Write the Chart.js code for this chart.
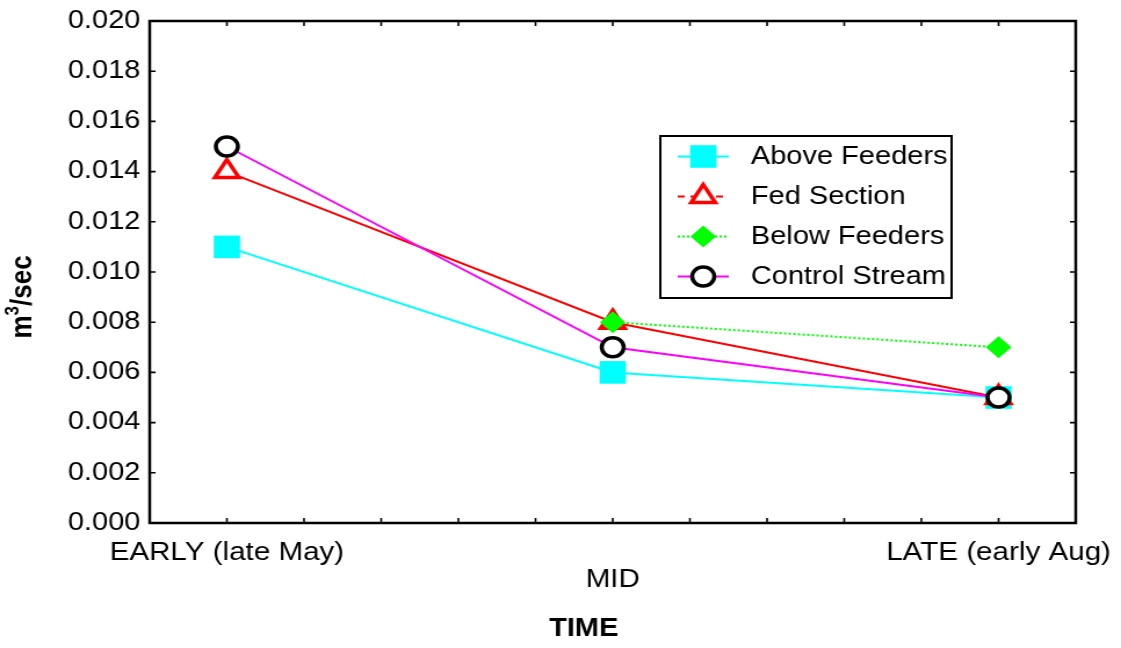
<!DOCTYPE html>
<html>
<head>
<meta charset="utf-8">
<script src="https://cdn.jsdelivr.net/npm/chart.js@4/dist/chart.umd.min.js"></script>
<style>
  html, body { margin: 0; padding: 0; background: #fff; overflow: hidden; }
</style>
</head>
<body>
<!-- Drawn 966 px wide and shown 1121 px wide: the plot and its lettering come out horizontally widened. -->
<canvas id="c" width="966" height="648" style="display:block;width:1121px;height:648px"></canvas>
<script>
// Sampling times, placed along a 0–12 axis
const timeLabels = ['EARLY (late May)', 'MID', 'LATE (early Aug)'];
const timePositions = [1, 6, 11];
const minorTickPositions = [1, 2, 3, 4, 5, 6, 7, 8, 9, 10, 11];

// Discharge, m³/sec
const aboveFeeders  = [0.011, 0.006, 0.005];
const fedSection    = [0.014, 0.008, 0.005];
const belowFeeders  = [null, 0.008, 0.007];
const controlStream = [0.015, 0.007, 0.005];

// Y axis
const yMin = 0, yMax = 0.020, yStep = 0.002;

const toPoints = vals => vals.map((v, i) => ({ x: timePositions[i], y: v }));

const FONT = "'Liberation Sans', Arial, Helvetica, sans-serif";
Chart.defaults.font.family = FONT;
Chart.defaults.color = '#000';

// Box round the plot area with short inward tick marks on all four sides
const framePlugin = {
  id: 'frame',
  beforeDatasetsDraw(chart) {
    const { ctx, chartArea: a, scales } = chart;
    const tl = 5;
    ctx.save();
    ctx.strokeStyle = '#000';
    ctx.lineWidth = 2.5;
    ctx.strokeRect(a.left, a.top, a.right - a.left, a.bottom - a.top);
    ctx.lineWidth = 1.6;
    ctx.beginPath();
    minorTickPositions.forEach(v => {
      const x = scales.x.getPixelForValue(v);
      ctx.moveTo(x, a.top); ctx.lineTo(x, a.top + tl);
      ctx.moveTo(x, a.bottom); ctx.lineTo(x, a.bottom - tl);
    });
    for (let v = yMin + yStep; v < yMax - yStep / 2; v += yStep) {
      const y = scales.y.getPixelForValue(v);
      ctx.moveTo(a.left, y); ctx.lineTo(a.left + tl, y);
      ctx.moveTo(a.right, y); ctx.lineTo(a.right - tl, y);
    }
    ctx.stroke();
    ctx.restore();
  }
};

// Axis titles: rotated "m³/sec" with a raised 3, and "TIME" below the axis
const axisTitlePlugin = {
  id: 'axisTitles',
  afterDraw(chart) {
    const { ctx, chartArea: a } = chart;
    ctx.save();
    ctx.fillStyle = '#000';
    ctx.textBaseline = 'middle';

    ctx.font = 'bold 25px ' + FONT;
    ctx.textAlign = 'center';
    ctx.fillText('TIME', a.left + 374, 629);

    ctx.translate(20, (a.top + a.bottom) / 2 + 25);
    ctx.rotate(-Math.PI / 2);
    ctx.textAlign = 'left';
    const big = 'bold 26px ' + FONT, small = 'bold 17px ' + FONT;
    ctx.font = big;
    const wm = ctx.measureText('m').width;
    const ws = ctx.measureText('/sec').width;
    ctx.font = small;
    const w3 = ctx.measureText('3').width;
    let x = -(wm + w3 + ws) / 2;
    ctx.font = big;
    ctx.fillText('m', x, 0);
    x += wm;
    ctx.font = small;
    ctx.fillText('3', x, -9);
    x += w3;
    ctx.font = big;
    ctx.fillText('/sec', x, 0);
    ctx.restore();
  }
};

// Boxed legend inside the plot, built from each dataset's own styling
const boxLegendPlugin = {
  id: 'boxLegend',
  afterDraw(chart) {
    const { ctx, chartArea: a } = chart;
    const left = a.left + 440, top = a.top + 115, w = 251, h = 162;
    const rowGap = 40, firstRow = 20.5;
    ctx.save();
    ctx.fillStyle = '#fff';
    ctx.fillRect(left, top, w, h);
    ctx.strokeStyle = '#000';
    ctx.lineWidth = 2;
    ctx.strokeRect(left, top, w, h);
    chart.data.datasets.forEach((ds, i) => {
      const y = top + firstRow + i * rowGap;
      const cx = left + 37;
      ctx.save();
      ctx.strokeStyle = ds.borderColor;
      ctx.lineWidth = ds.borderWidth;
      ctx.setLineDash(ds.legendDash || ds.borderDash || []);
      ctx.beginPath();
      ctx.moveTo(left + 15, y);
      ctx.lineTo(left + 59, y);
      ctx.stroke();
      ctx.restore();
      ctx.save();
      ctx.fillStyle = ds.pointBackgroundColor;
      ctx.strokeStyle = ds.pointBorderColor;
      ctx.lineWidth = ds.pointBorderWidth;
      Chart.helpers.drawPoint(ctx, {
        pointStyle: ds.pointStyle,
        rotation: 0,
        radius: ds.pointRadius,
        borderWidth: ds.pointBorderWidth
      }, cx, y);
      ctx.restore();
      ctx.fillStyle = '#000';
      ctx.font = '25px ' + FONT;
      ctx.textAlign = 'left';
      ctx.textBaseline = 'middle';
      ctx.fillText(ds.label, left + 78, y + 1);
    });
    ctx.restore();
  }
};

new Chart(document.getElementById('c'), {
  type: 'line',
  data: {
    datasets: [
      {
        label: 'Above Feeders',
        data: toPoints(aboveFeeders),
        borderColor: '#00ffff',
        borderWidth: 2,
        pointStyle: 'rect',
        pointRadius: 16,
        pointBackgroundColor: '#00ffff',
        pointBorderColor: '#00ffff',
        pointBorderWidth: 0,
        order: 4
      },
      {
        label: 'Fed Section',
        data: toPoints(fedSection),
        borderColor: '#ff0000',
        borderWidth: 2,
        legendDash: [6, 5],
        pointStyle: 'triangle',
        pointRadius: 12,
        pointBackgroundColor: '#ffffff',
        pointBorderColor: '#ff0000',
        pointBorderWidth: 3.5,
        order: 3
      },
      {
        label: 'Below Feeders',
        data: toPoints(belowFeeders),
        borderColor: '#00ff00',
        borderWidth: 2,
        borderDash: [2, 2],
        pointStyle: 'rectRot',
        pointRadius: 11,
        pointBackgroundColor: '#00ff00',
        pointBorderColor: '#00ff00',
        pointBorderWidth: 0,
        order: 2
      },
      {
        label: 'Control Stream',
        data: toPoints(controlStream),
        borderColor: '#ff00ff',
        borderWidth: 2,
        pointStyle: 'circle',
        pointRadius: 9.5,
        pointBackgroundColor: '#ffffff',
        pointBorderColor: '#000000',
        pointBorderWidth: 3.5,
        order: 1
      }
    ]
  },
  options: {
    responsive: false,
    animation: false,
    events: [],
    layout: { padding: { left: 0, top: 21, right: 39, bottom: 0 } },
    plugins: { legend: { display: false }, tooltip: { enabled: false }, title: { display: false } },
    elements: { line: { tension: 0, fill: false } },
    scales: {
      x: {
        type: 'linear',
        min: 0,
        max: 12,
        grid: { display: false, drawTicks: false },
        border: { display: false },
        afterBuildTicks: axis => { axis.ticks = timePositions.map(v => ({ value: v })); },
        afterFit: s => { s.height = 125; s.paddingLeft = 0; s.paddingRight = 0; },
        ticks: {
          padding: 16,
          maxRotation: 0,
          autoSkip: false,
          font: { size: 25.5, lineHeight: 1.08 },
          color: '#000',
          callback: (v, i) => (i === 1 ? ['', timeLabels[i]] : timeLabels[i])
        }
      },
      y: {
        min: yMin,
        max: yMax,
        grid: { display: false, drawTicks: false },
        border: { display: false },
        afterFit: s => { s.width = 129; s.paddingTop = 0; s.paddingBottom = 0; },
        ticks: {
          stepSize: yStep,
          padding: 8,
          color: '#000',
          font: { size: 25 },
          callback: v => v.toFixed(3)
        }
      }
    }
  },
  plugins: [framePlugin, axisTitlePlugin, boxLegendPlugin]
});
</script>
</body>
</html>
